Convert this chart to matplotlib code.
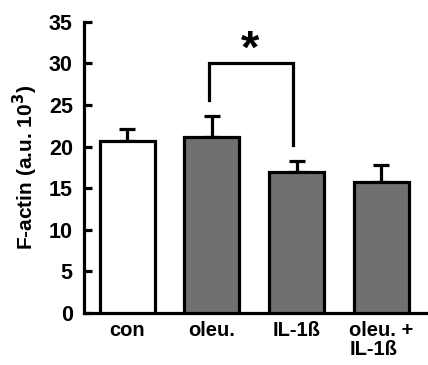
"""Bar chart of F-actin content per treatment, with significance bracket."""

import matplotlib

matplotlib.use("Agg")
import matplotlib.pyplot as plt
import numpy as np

# Data
categories = ["con", "oleu.", "IL-1ß", "oleu. +\nIL-1ß"]
means = [20.7, 21.2, 17.0, 15.8]
errors = [1.4, 2.5, 1.3, 2.0]
fill_colors = ["white", "#707070", "#707070", "#707070"]

# significance bracket between oleu. and IL-1ß
bracket_top = 30.1
bracket_left_end = 25.6
bracket_right_end = 20.2

plt.rcParams["font.family"] = ["Liberation Sans", "DejaVu Sans"]
plt.rcParams["font.weight"] = "bold"

fig = plt.figure(figsize=(4.28, 3.65), dpi=100)
ax = fig.add_axes([0.196, 0.1425, 0.804, 0.7975])

x = np.arange(len(categories))
ax.bar(x, means, width=0.65, color=fill_colors, edgecolor="black",
       linewidth=2.3, zorder=3)
ax.errorbar(x, means, yerr=[np.zeros(len(errors)), errors], fmt="none",
            ecolor="black", elinewidth=2.3, capsize=6, capthick=2.3, zorder=2)

# Bracket and star
ax.plot([0.97, 0.97, 1.96, 1.96],
        [bracket_left_end, bracket_top, bracket_top, bracket_right_end],
        color="black", linewidth=2.3, solid_joinstyle="miter")
ax.text(1.45, 28.9, "*", ha="center", va="bottom",
        fontsize=34, fontweight="bold")

ax.set_xlim(-0.51, 3.55)
ax.set_ylim(0, 35)
ax.set_yticks(np.arange(0, 36, 5))
ax.set_xticks(x)
ax.set_xticklabels(categories, fontsize=14.5, fontweight="bold",
                   linespacing=1.0)
ax.get_xticklabels()[-1].set_multialignment("left")
ax.tick_params(axis="y", direction="in", length=6, width=2.3,
               labelsize=15.5, pad=8)
ax.tick_params(axis="x", length=0, pad=6)
for label in ax.get_yticklabels():
    label.set_fontweight("bold")

ax.spines["top"].set_visible(False)
ax.spines["right"].set_visible(False)
ax.spines["left"].set_linewidth(2.3)
ax.spines["bottom"].set_linewidth(2.3)

ax.set_ylabel("F-actin (a.u. 10$^\\mathbf{3}$)", fontsize=15,
              fontweight="bold", labelpad=6)

fig.savefig("out.png", dpi=100)
plt.close(fig)
